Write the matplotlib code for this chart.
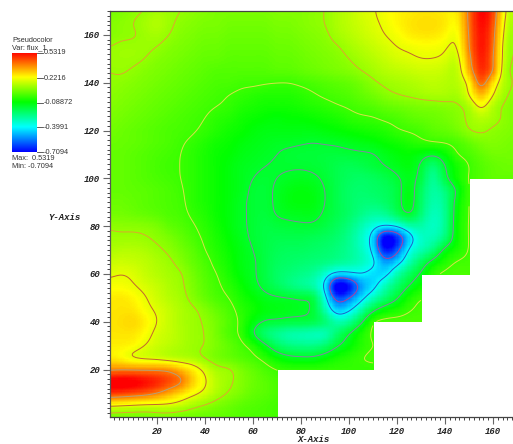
import numpy as np
import matplotlib
matplotlib.use("Agg")
import matplotlib.pyplot as plt
from matplotlib.colors import LinearSegmentedColormap

W, H = 513, 444

flux_min, flux_max = -0.7094, 0.5319
legend_ticks = ["0.5319", "0.2216", "-0.08872", "-0.3991", "-0.7094"]
x_ticks = [20, 40, 60, 80, 100, 120, 140, 160]
y_ticks = [20, 40, 60, 80, 100, 120, 140, 160]
x_nodes = np.arange(0, 171, 5)
y_nodes = np.arange(170, -1, -5)
contour_levels = [-0.56, -0.40, -0.14, -0.02, 0.09, 0.19, 0.38]
contour_colors = ["#b03c9c", "#1f5fc4", "#8284a4", "#d8e24a", "#dea62e", "#c2632f", "#b4a078"]
# domain steps: (x greater than, y less than) is outside the mesh
mesh_steps = [(70, 20), (110, 40), (130, 60), (150, 100)]

# flux x 100; rows from y=170 down to y=0, columns x=0,5,...,170
flux_rows = [
 [5,6,8,9,11,10,9,8,7,6,6,6,6,6,7,7,7,8,9,12,14,17,18.5,21,23,24,25,25,24,24,40,54,46,19,12],
 [7,8,9,11,13,10,8,7,6,6,5,5,5,5,6,6,7,8,9,12,14,16,18,20,23,25,26,26,25,22,40,53,44,17,10],
 [7,8,8.5,10,11,9,7,6,5,5,4,4,4,4,5,5,6,7,8,11,13,15,17,19,21,24,25,25,23,20,39,52,42,15,9],
 [9,10,10,10,9,7,6,5,4,4,3,3,3,3,4,4,5,6,7,8.5,11,13,15,17,19,20,21,21,20,18,38,52,41,13,9],
 [10,10,10,9,7,6,5,4,3,3,2,2,2,2,3,3,4,5,6,7,9,11,13,15,17,18,19,19,18,15,35,51,39,13,8],
 [9,9.5,8.5,7,6,5,4,3,2,1,1,1,1,1,2,2,3,4,5,6,7,9,11,13,14,15,16,16,15,13,32,49,39,11,8],
 [8.5,8,7,6,5,4,3,2,1,0,0,-1,-1,-1.5,-2,-2,-1,0,1,2,3,5,8,10,11,12,13,14,13,13,21,44,25,12,8],
 [8,7,6,5,4,3,2,1,0,-1,-2,-3,-4,-5,-5,-5,-4,-2.5,-1,0,1,3,5,7.5,9,10,11,12,12,11,19,32,19,10,7],
 [7,6,5,4,3,2,1,0,-1,-2,-3,-5,-6,-7,-7,-7,-6,-5,-4,-2.5,-1.5,0,1,3,4,5,6,6,7,8,11,21,12,8,6],
 [6,5,4,3,2,1,0,-1,-2,-4,-5,-7,-8,-9,-10,-9,-9,-8,-7,-6,-4,-3,-2.5,-1,0,2,3,4,5,7,10,13,11,8,6],
 [5,4,3,2,1,0,-0.5,-1.5,-3,-5,-7,-8,-10,-11,-11,-11,-11,-11,-10,-9,-8,-7,-6,-5,-2.5,-1.5,-0.5,2,3,5,9,10,8,7,6],
 [4,3.5,3,2,1,0,-1.5,-3,-5,-7,-8,-10,-11,-12,-13,-13,-13.5,-14,-13.5,-13,-12,-11,-10,-8,-7,-5,-3,-2,-1.5,0,3,6,7,6,5],
 [3,3,2,1,0,-1,-2,-4,-6,-8,-9,-11,-12,-13,-14,-15,-15.5,-15.5,-16,-16,-15.5,-15,-14.5,-12,-10,-9,-11,-13,-9,-2,0,3,5,5,5],
 [3,3,2,1,-0.5,-1.5,-2,-4,-6,-8,-10,-12,-13,-14,-14.5,-14.5,-14.5,-15,-16,-18,-19,-18,-16,-14,-12,-10,-15,-24,-14,-7,-2,1,3,4,4],
 [3,3,2,1,0,-1,-2,-4,-6,-8,-10,-12,-14,-15,-14,-13,-12.5,-13,-15,-18,-20,-21,-20,-18,-15,-12,-16,-28,-16,-7,-1.5,1,3,3,3],
 [3,3,2.5,2,1,0,-1.5,-4,-6,-8,-10,-12,-15,-15.5,-13,-11,-10,-11,-14,-18,-21,-22,-21,-20,-17,-10,-20,-29,-24,-13,-1.5],
 [4,4,3,2,1,0,-1,-4,-6,-8,-10,-13,-15,-15.5,-13,-10.5,-10,-10.5,-14,-18,-21,-23,-23,-21,-17,-10,-21,-30,-26,-10,-1.5],
 [5,5,4,3,2,0.5,-0.5,-3,-5,-8,-10,-13,-15,-16,-13.5,-12.5,-12,-12,-15,-18,-21,-25,-28,-27,-20,-13,-23,-32,-27,-9,-1.5],
 [8.5,8,8,7.5,6,2.5,1,-1.5,-4,-7,-10,-13,-15,-17,-16,-15.5,-15,-15,-17,-20,-24,-30,-36,-40,-38,-30,-29,-33,-27,-8,-1.5],
 [10,10,10,9.5,8,6,3,0,-3,-6,-9,-12,-15,-17,-18,-18,-18,-19,-20,-22,-26,-33,-44,-78,-68,-46,-33,-31,-24,-8,-1.5],
 [12,13,13,12,10,8,5,2,-2,-5,-8,-11,-14,-17,-19,-20,-20,-21,-22,-24,-27,-32,-42,-70,-60,-38,-31,-24,-11,-6,-1.5],
 [15,16,15,14,12,10,7,3,0,-4,-7,-11,-13,-17,-20,-21,-22,-23,-24,-26,-28,-31,-37,-52,-45,-31,-20,-11,-5,-1.5,-1],
 [18,19,18,15,13,11,9.5,5,1,-2,-6,-10,-13,-17,-21,-23,-25,-27,-34,-43,-42,-40,-44,-44,-30,-20,-13,-3,-1,0],
 [21,21,19.5,17,15,12,10,6,2,-1,-4,-8,-12,-16,-20,-24,-27,-30,-42,-80,-72,-52,-44,-31,-22,-14,-8,-4,-2,-1],
 [24,25,23,19.5,16,13,11,7,3,0,-2,-6,-9,-12,-13,-13.5,-14.5,-16,-36,-62,-56,-44,-32,-23,-15,-6,-2,-2,-1,-1],
 [25,25,25,21,18,15,12,10,7,3,0,-4,-7,-10,-11,-12,-13,-15,-30,-47,-42,-30,-16,-9,-6,-2.5,-1,-1],
 [25,26,27,24,19,15,12,10,8.5,5,1,-3,-10,-14.5,-15,-16,-16,-17,-21,-30,-27,-16,-2,0,0,0,0],
 [25,25,25,22,17,15,12.5,10,9,5,0,-3,-14,-23,-27,-30,-31,-32,-32,-22,-14,-6,-1,0],
 [24,24,23,19,16,14,12,10,9,6,3,-0.5,-4,-12,-20,-24,-25,-25,-22,-15,-10,-5,-2],
 [24,22,17.5,16,15,13,12,11,8,5,3,1,-1,-4,-9,-12,-13,-13,-10,-6,-4,-2,-1],
 [36,37,37,37,37,36,30,24,17,11,10,6,3,0,-2,-3],
 [56,57,56,53,50,45,40,28,20,13,10,7,4,2,0],
 [47,46,44,42,38,32,26,21,17,12,8.5,6,3,2,0],
 [20,19,18,17,17,17,15,11,8.5,6,4,2,1,0,-1],
 [4,4,4,4,5,5,4,4,3,3,2,1,0,0,-1],
]

flux = np.array([r + [r[-1]] * (len(x_nodes) - len(r)) for r in flux_rows], dtype=float) / 100.0


def upsample(arr, n, axis):
    """Catmull-Rom resampling of a table of read values for smooth display."""
    a = np.moveaxis(arr, axis, 0)
    m = a.shape[0]
    pos = np.linspace(0, m - 1, (m - 1) * n + 1)
    i = np.clip(np.floor(pos).astype(int), 0, m - 2)
    t = (pos - i).reshape((-1,) + (1,) * (a.ndim - 1))
    p0, p1, p2, p3 = a[np.clip(i - 1, 0, m - 1)], a[i], a[i + 1], a[np.clip(i + 2, 0, m - 1)]
    out = 0.5 * (2 * p1 + (p2 - p0) * t + (2 * p0 - 5 * p1 + 4 * p2 - p3) * t**2
                 + (3 * p1 - p0 - 3 * p2 + p3) * t**3)
    return np.moveaxis(out, 0, axis)


def soften(arr, sigma):
    """Gaussian blur with edge padding, to take the table's grid pattern out."""
    r = int(3 * sigma)
    k = np.exp(-0.5 * (np.arange(-r, r + 1) / sigma) ** 2)
    k /= k.sum()
    for axis in (0, 1):
        pad = [(0, 0), (0, 0)]
        pad[axis] = (r, r)
        arr = np.apply_along_axis(lambda v: np.convolve(v, k, mode="valid"), axis, np.pad(arr, pad, mode="edge"))
    return arr


N = 10
fine = soften(upsample(upsample(flux, N, 0), N, 1), 3.2)
xf = np.linspace(x_nodes[0], x_nodes[-1], fine.shape[1])
yf = np.linspace(y_nodes[0], y_nodes[-1], fine.shape[0])
XF, YF = np.meshgrid(xf, yf)
outside = np.zeros_like(fine, dtype=bool)
for sx, sy in mesh_steps:
    outside |= (XF > sx) & (YF < sy)
fine_m = np.ma.array(fine, mask=outside)

cmap = LinearSegmentedColormap.from_list(
    "visit_hot", ["#0000ff", "#00ffff", "#00ff00", "#ffff00", "#ff0000"], N=256)
cmap.set_bad("white")


def box(l, t, r, b):
    return [l / W, 1 - b / H, (r - l) / W, (b - t) / H]


fig = plt.figure(figsize=(W / 100, H / 100), dpi=100, facecolor="white")
ax = fig.add_axes(box(110, 11, 517, 417))
ax.pcolormesh(xf, yf, fine_m, cmap=cmap, vmin=flux_min, vmax=flux_max, shading="nearest", rasterized=True)
ax.contour(xf, yf, fine_m, levels=contour_levels, colors=contour_colors, linewidths=0.7)
ax.set_xlim(0.42, 170)
ax.set_ylim(0.13, 170)

ax.spines["right"].set_visible(False)
ax.spines["top"].set_color("#444444")
ax.spines["left"].set_color("#555555")
ax.spines["bottom"].set_color("#444444")
for s in ax.spines.values():
    s.set_linewidth(0.9)

tick_font = dict(family="Liberation Mono", weight="bold", style="italic", size=6.5, color="#222222")
ax.set_xticks(x_ticks)
ax.set_yticks(y_ticks)
ax.set_xticklabels([str(v) for v in x_ticks], **tick_font)
ax.set_yticklabels([str(v) for v in y_ticks], **tick_font)
ax.set_xticks(np.arange(2, 171, 2), minor=True)
ax.set_yticks(np.arange(2, 171, 2), minor=True)
ax.tick_params(which="major", length=5, width=0.8, color="#666666", pad=2)
ax.tick_params(which="minor", length=2.4, width=0.7, color="#444444")

fig.text(297 / W, 1 - 439.5 / H, "X-Axis", ha="left", va="center", **tick_font)
fig.text(48 / W, 1 - 217 / H, "Y-Axis", ha="left", va="center", **tick_font)

# legend
cax = fig.add_axes(box(12, 53, 37, 152))
cax.imshow(np.linspace(1, 0, 256).reshape(-1, 1), cmap=cmap, aspect="auto", vmin=0, vmax=1)
cax.set_axis_off()
leg_font = dict(family="Liberation Sans", size=5.3, color="#333333", va="center", ha="left")
fig.text(12 / W, 1 - 40.5 / H, "Pseudocolor", **leg_font)
fig.text(12 / W, 1 - 48 / H, "Var: flux_1", **leg_font)
for lab, py in zip(legend_ticks, [53, 78, 103, 127, 152]):
    fig.add_artist(plt.Line2D([37 / W, 43 / W], [1 - py / H, 1 - py / H], color="#444444", lw=0.6))
    fig.text(44 / W, 1 - py / H, lab, **leg_font)
fig.text(12 / W, 1 - 158 / H, "Max:  0.5319", **leg_font)
fig.text(12 / W, 1 - 166 / H, "Min: -0.7094", **leg_font)

fig.savefig("out.png", dpi=100)
